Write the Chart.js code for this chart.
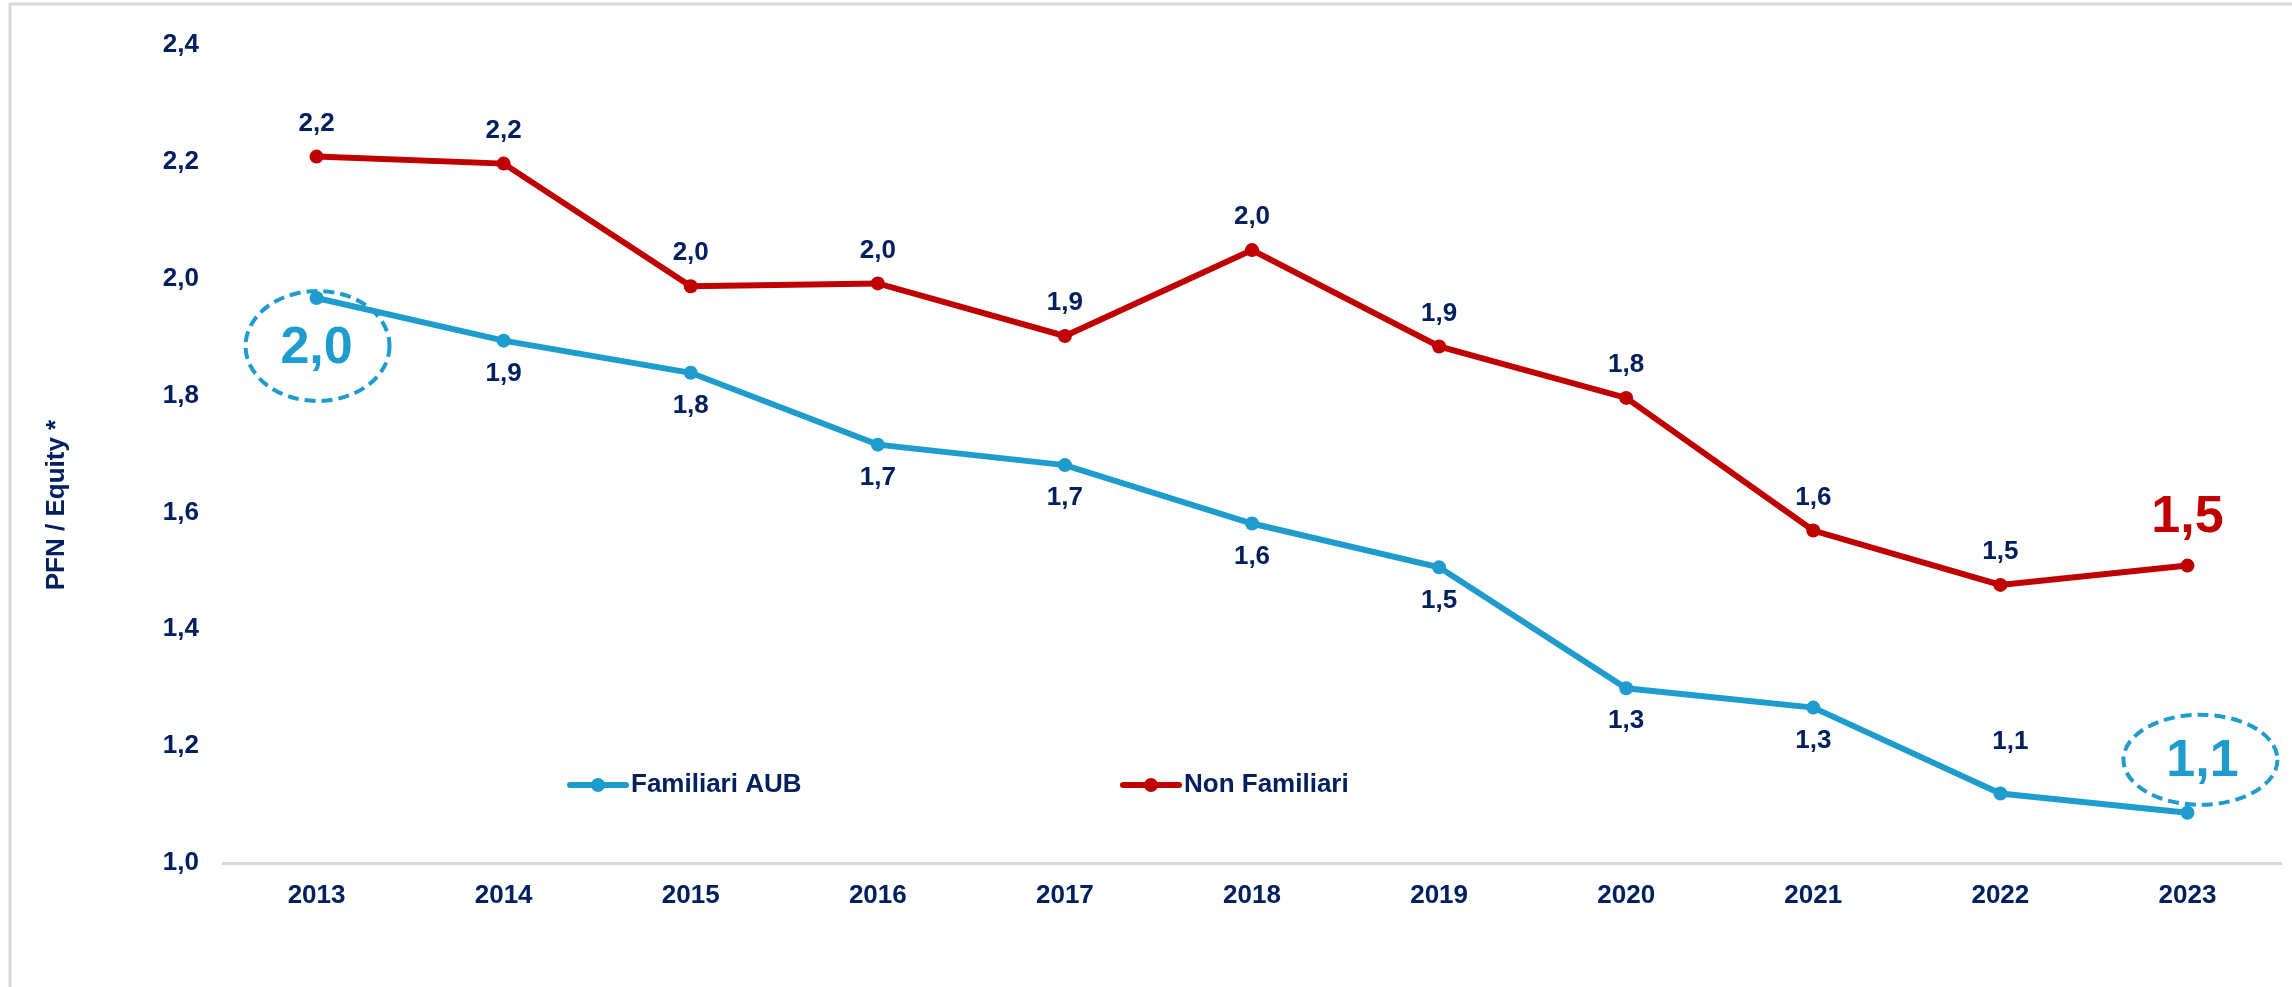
<!DOCTYPE html>
<html>
<head>
<meta charset="utf-8">
<script src="https://cdn.jsdelivr.net/npm/chart.js@4.4.1/dist/chart.umd.min.js"></script>
<style>
html,body{margin:0;padding:0;background:#fff;}
#wrap{width:2292px;height:987px;position:relative;}
</style>
</head>
<body>
<div id="wrap"><canvas id="c" width="2292" height="987"></canvas></div>
<script>
// ---- data ----
const years = ['2013','2014','2015','2016','2017','2018','2019','2020','2021','2022','2023'];
const familiariAUB = [1.967,1.894,1.839,1.716,1.681,1.581,1.506,1.299,1.266,1.119,1.086];
const nonFamiliari = [2.209,2.197,1.987,1.992,1.902,2.049,1.884,1.796,1.569,1.476,1.509];
const seriesNames = ['Familiari AUB','Non Familiari'];
const yTickValues = [1.0,1.2,1.4,1.6,1.8,2.0,2.2,2.4];
const yTitle = 'PFN / Equity *';

// ---- style ----
const NAVY = '#002060', BLUE = '#1E9CCE', RED = '#C00000';
const FAM = '"Liberation Sans", Arial, sans-serif';
const fmt = v => Number(v).toFixed(1).replace('.', ',');

const decor = {
  id: 'decor',
  beforeDraw(chart) {
    const ctx = chart.ctx;
    ctx.save();
    ctx.fillStyle = '#fff';
    ctx.fillRect(0, 0, chart.width, chart.height);
    ctx.strokeStyle = '#D9D9D9';
    ctx.lineWidth = 3;
    ctx.beginPath();
    ctx.moveTo(10, chart.height);
    ctx.lineTo(10, 4);
    ctx.lineTo(chart.width, 4);
    ctx.stroke();
    ctx.restore();
  },
  afterDraw(chart) {
    const ctx = chart.ctx;
    ctx.save();
    // y title
    ctx.translate(57, 505);
    ctx.rotate(-Math.PI / 2);
    ctx.fillStyle = NAVY;
    ctx.font = 'bold 26px ' + FAM;
    ctx.textAlign = 'center';
    ctx.textBaseline = 'middle';
    ctx.fillText(yTitle, 0, 0);
    ctx.restore();

    // legend
    const items = [
      {x: 570, color: BLUE, text: chart.data.datasets[0].label},
      {x: 1123, color: RED, text: chart.data.datasets[1].label}
    ];
    const ly = 785;
    ctx.save();
    items.forEach(it => {
      ctx.strokeStyle = it.color;
      ctx.lineWidth = 6;
      ctx.lineCap = 'round';
      ctx.beginPath();
      ctx.moveTo(it.x, ly);
      ctx.lineTo(it.x + 56, ly);
      ctx.stroke();
      ctx.fillStyle = it.color;
      ctx.beginPath();
      ctx.arc(it.x + 28, ly, 7, 0, Math.PI * 2);
      ctx.fill();
      ctx.fillStyle = NAVY;
      ctx.font = 'bold 26px ' + FAM;
      ctx.textAlign = 'left';
      ctx.textBaseline = 'middle';
      ctx.fillText(it.text, it.x + 61, ly);
    });
    ctx.restore();
  },
  afterDatasetsDraw(chart) {
    const ctx = chart.ctx;
    ctx.save();
    ctx.textAlign = 'center';
    ctx.textBaseline = 'middle';
    const last = years.length - 1;
    // red labels
    const mR = chart.getDatasetMeta(1);
    mR.data.forEach((p, i) => {
      const v = nonFamiliari[i];
      if (i === last) {
        ctx.fillStyle = RED;
        ctx.font = 'bold 52px ' + FAM;
        ctx.fillText(fmt(v), p.x, p.y - 48);
      } else {
        ctx.fillStyle = NAVY;
        ctx.font = 'bold 26px ' + FAM;
        ctx.fillText(fmt(v), p.x, p.y - 33);
      }
    });
    // blue labels
    const mB = chart.getDatasetMeta(0);
    mB.data.forEach((p, i) => {
      const v = familiariAUB[i];
      if (i === 0 || i === last) {
        let cx, cy, rx, ry, tx, ty;
        if (i === 0) { cx = p.x + 1; cy = p.y + 48; rx = 72; ry = 55; tx = p.x; ty = p.y + 51; }
        else { cx = p.x + 13; cy = p.y - 53; rx = 77; ry = 45; tx = p.x + 15; ty = p.y - 51; }
        ctx.strokeStyle = BLUE;
        ctx.lineWidth = 4;
        ctx.setLineDash([11, 6]);
        ctx.beginPath();
        ctx.ellipse(cx, cy, rx, ry, 0, 0, Math.PI * 2);
        ctx.stroke();
        ctx.setLineDash([]);
        ctx.fillStyle = BLUE;
        ctx.font = 'bold 52px ' + FAM;
        ctx.fillText(fmt(v), tx, ty);
      } else if (i === last - 1) {
        ctx.fillStyle = NAVY;
        ctx.font = 'bold 26px ' + FAM;
        ctx.fillText(fmt(v), p.x + 10, p.y - 52);
      } else {
        ctx.fillStyle = NAVY;
        ctx.font = 'bold 26px ' + FAM;
        ctx.fillText(fmt(v), p.x, p.y + 33);
      }
    });
    ctx.restore();
  }
};

new Chart(document.getElementById('c'), {
  type: 'line',
  data: {
    labels: years,
    datasets: [
      {label: seriesNames[0], data: familiariAUB, borderColor: BLUE, backgroundColor: BLUE,
       borderWidth: 6, pointRadius: 7, pointBorderWidth: 0, pointBackgroundColor: BLUE, tension: 0},
      {label: seriesNames[1], data: nonFamiliari, borderColor: RED, backgroundColor: RED,
       borderWidth: 6, pointRadius: 7, pointBorderWidth: 0, pointBackgroundColor: RED, tension: 0}
    ]
  },
  options: {
    responsive: false,
    animation: false,
    devicePixelRatio: 1,
    layout: {padding: {top: 45, right: 11, bottom: 0, left: 0}},
    plugins: {legend: {display: false}, tooltip: {enabled: false}},
    scales: {
      x: {
        offset: true,
        grid: {display: false, drawTicks: false},
        border: {display: true, color: '#D9D9D9', width: 3},
        ticks: {color: NAVY, font: {family: FAM, size: 26, weight: 'bold'}, padding: 17, maxRotation: 0, autoSkip: false},
        afterFit(s) { s.height = 124; }
      },
      y: {
        min: yTickValues[0],
        max: yTickValues[yTickValues.length - 1],
        grid: {display: false, drawTicks: false},
        border: {display: false},
        afterBuildTicks(s) { s.ticks = yTickValues.map(v => ({value: v})); },
        ticks: {color: NAVY, font: {family: FAM, size: 26, weight: 'bold'}, padding: 24, callback: v => fmt(v)},
        afterFit(s) { s.width = 223; }
      }
    }
  },
  plugins: [decor]
});
</script>
</body>
</html>
